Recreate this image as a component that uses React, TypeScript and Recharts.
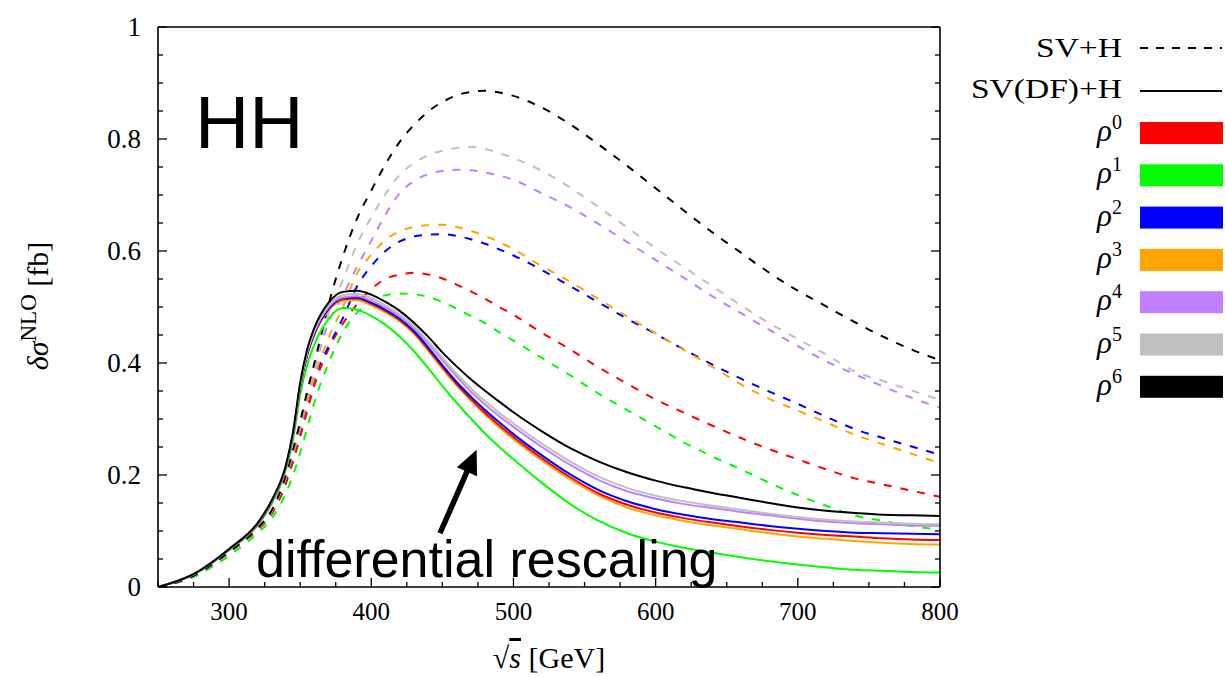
import React from 'react';
import { LineChart, Line, XAxis, YAxis, ReferenceLine } from 'recharts';

// sqrt(s) [GeV]
const X_VALUES = [250, 275, 300, 320, 330, 340, 345, 350, 355, 360, 370, 380, 390, 400, 410, 420, 430, 440, 450, 460, 470, 480, 490, 500, 520, 540, 560, 580, 600, 620, 640, 660, 680, 700, 720, 740, 760, 780, 800];

// SV+H (dashed)
const SVH_RHO0 = [0, 0.02, 0.061, 0.102, 0.13, 0.185, 0.224, 0.268, 0.315, 0.36, 0.425, 0.47, 0.505, 0.532, 0.55, 0.558, 0.561, 0.558, 0.551, 0.54, 0.528, 0.515, 0.5, 0.486, 0.454, 0.424, 0.392, 0.363, 0.335, 0.311, 0.288, 0.266, 0.246, 0.228, 0.21, 0.194, 0.183, 0.172, 0.161];
const SVH_RHO1 = [0, 0.018, 0.056, 0.096, 0.122, 0.168, 0.2, 0.24, 0.285, 0.33, 0.4, 0.455, 0.49, 0.512, 0.521, 0.524, 0.523, 0.518, 0.509, 0.497, 0.484, 0.471, 0.455, 0.44, 0.409, 0.378, 0.345, 0.316, 0.287, 0.258, 0.233, 0.21, 0.186, 0.164, 0.145, 0.128, 0.118, 0.109, 0.102];
const SVH_RHO2 = [0, 0.02, 0.062, 0.104, 0.134, 0.194, 0.235, 0.28, 0.327, 0.372, 0.43, 0.48, 0.537, 0.573, 0.6, 0.617, 0.626, 0.629, 0.63, 0.627, 0.621, 0.613, 0.603, 0.592, 0.566, 0.537, 0.508, 0.479, 0.452, 0.424, 0.397, 0.372, 0.349, 0.327, 0.304, 0.282, 0.266, 0.251, 0.236];
const SVH_RHO3 = [0, 0.02, 0.062, 0.104, 0.134, 0.195, 0.236, 0.282, 0.33, 0.375, 0.445, 0.5, 0.56, 0.593, 0.62, 0.635, 0.643, 0.646, 0.647, 0.643, 0.636, 0.627, 0.616, 0.603, 0.573, 0.545, 0.514, 0.483, 0.453, 0.423, 0.393, 0.362, 0.336, 0.315, 0.294, 0.272, 0.255, 0.238, 0.221];
const SVH_RHO4 = [0, 0.02, 0.063, 0.105, 0.136, 0.197, 0.24, 0.288, 0.34, 0.388, 0.473, 0.52, 0.572, 0.618, 0.665, 0.703, 0.725, 0.737, 0.743, 0.745, 0.744, 0.74, 0.735, 0.727, 0.703, 0.678, 0.648, 0.616, 0.584, 0.552, 0.519, 0.489, 0.459, 0.43, 0.403, 0.38, 0.358, 0.338, 0.32];
const SVH_RHO5 = [0, 0.02, 0.063, 0.105, 0.136, 0.198, 0.242, 0.29, 0.343, 0.392, 0.488, 0.548, 0.612, 0.66, 0.702, 0.736, 0.757, 0.771, 0.779, 0.784, 0.786, 0.782, 0.775, 0.766, 0.743, 0.713, 0.678, 0.642, 0.605, 0.571, 0.537, 0.503, 0.471, 0.443, 0.415, 0.385, 0.368, 0.351, 0.334];
const SVH_RHO6 = [0, 0.02, 0.063, 0.105, 0.137, 0.2, 0.245, 0.295, 0.35, 0.4, 0.505, 0.59, 0.658, 0.708, 0.755, 0.795, 0.825, 0.849, 0.866, 0.878, 0.884, 0.886, 0.883, 0.877, 0.856, 0.826, 0.79, 0.752, 0.712, 0.672, 0.633, 0.597, 0.561, 0.529, 0.501, 0.473, 0.447, 0.424, 0.405];

// SV(DF)+H (solid)
const DF_RHO0 = [0, 0.023, 0.067, 0.112, 0.152, 0.215, 0.272, 0.357, 0.415, 0.452, 0.496, 0.514, 0.515, 0.506, 0.493, 0.477, 0.455, 0.425, 0.393, 0.363, 0.336, 0.311, 0.289, 0.268, 0.23, 0.196, 0.167, 0.147, 0.133, 0.123, 0.115, 0.108, 0.102, 0.097, 0.093, 0.09, 0.087, 0.085, 0.084];
const DF_RHO1 = [0, 0.022, 0.066, 0.11, 0.149, 0.21, 0.263, 0.343, 0.397, 0.433, 0.479, 0.498, 0.495, 0.484, 0.468, 0.447, 0.421, 0.391, 0.359, 0.329, 0.301, 0.274, 0.25, 0.228, 0.186, 0.148, 0.118, 0.096, 0.081, 0.07, 0.061, 0.053, 0.046, 0.04, 0.035, 0.031, 0.029, 0.027, 0.026];
const DF_RHO2 = [0, 0.023, 0.067, 0.113, 0.153, 0.216, 0.273, 0.358, 0.416, 0.453, 0.497, 0.516, 0.517, 0.508, 0.495, 0.479, 0.457, 0.428, 0.396, 0.366, 0.34, 0.316, 0.294, 0.273, 0.235, 0.201, 0.173, 0.153, 0.139, 0.129, 0.121, 0.115, 0.109, 0.104, 0.1, 0.097, 0.096, 0.095, 0.094];
const DF_RHO3 = [0, 0.023, 0.067, 0.112, 0.152, 0.215, 0.271, 0.356, 0.414, 0.45, 0.494, 0.511, 0.512, 0.503, 0.49, 0.474, 0.452, 0.422, 0.39, 0.36, 0.333, 0.308, 0.285, 0.264, 0.226, 0.192, 0.163, 0.142, 0.128, 0.118, 0.11, 0.103, 0.096, 0.09, 0.086, 0.082, 0.079, 0.077, 0.076];
const DF_RHO4 = [0, 0.023, 0.068, 0.113, 0.154, 0.216, 0.274, 0.36, 0.419, 0.456, 0.5, 0.517, 0.519, 0.511, 0.499, 0.483, 0.462, 0.435, 0.405, 0.376, 0.349, 0.326, 0.305, 0.286, 0.25, 0.218, 0.191, 0.171, 0.158, 0.148, 0.141, 0.134, 0.128, 0.122, 0.117, 0.114, 0.112, 0.11, 0.1095];
const DF_RHO5 = [0, 0.023, 0.068, 0.114, 0.154, 0.217, 0.275, 0.362, 0.421, 0.458, 0.503, 0.521, 0.523, 0.516, 0.503, 0.487, 0.466, 0.439, 0.41, 0.381, 0.355, 0.332, 0.311, 0.292, 0.256, 0.224, 0.197, 0.177, 0.163, 0.153, 0.145, 0.138, 0.131, 0.125, 0.12, 0.117, 0.115, 0.113, 0.112];
const DF_RHO6 = [0, 0.023, 0.068, 0.114, 0.155, 0.218, 0.277, 0.365, 0.425, 0.463, 0.508, 0.527, 0.529, 0.522, 0.509, 0.493, 0.472, 0.447, 0.419, 0.394, 0.371, 0.3505, 0.331, 0.312, 0.278, 0.248, 0.224, 0.205, 0.19, 0.178, 0.168, 0.159, 0.15, 0.142, 0.136, 0.132, 0.129, 0.128, 0.127];

const RHO_LABELS = ['0', '1', '2', '3', '4', '5', '6'];
const RHO_COLORS = ['#ff0000', '#00ff00', '#0000ff', '#ffa500', '#c080ff', '#c0c0c0', '#000000'];
const SVH_SERIES = [SVH_RHO0, SVH_RHO1, SVH_RHO2, SVH_RHO3, SVH_RHO4, SVH_RHO5, SVH_RHO6];
const DF_SERIES = [DF_RHO0, DF_RHO1, DF_RHO2, DF_RHO3, DF_RHO4, DF_RHO5, DF_RHO6];

const X_TICKS = [250, 275, 300, 325, 350, 375, 400, 425, 450, 475, 500, 525, 550, 575, 600, 625, 650, 675, 700, 725, 750, 775, 800];
const X_LABELS: Record<string, string> = { '300': '300', '400': '400', '500': '500', '600': '600', '700': '700', '800': '800' };
const Y_TICKS = [0, 0.05, 0.1, 0.15, 0.2, 0.25, 0.3, 0.35, 0.4, 0.45, 0.5, 0.55, 0.6, 0.65, 0.7, 0.75, 0.8, 0.85, 0.9, 0.95, 1];
const Y_LABELS: Record<string, string> = { '0': '0', '0.2': '0.2', '0.4': '0.4', '0.6': '0.6', '0.8': '0.8', '1': '1' };

const ARROW_TAIL = { x: 448.3, y: 0.096 };
const ARROW_TIP = { x: 474.1, y: 0.245 };

const data = X_VALUES.map((x, i) => {
  const row: Record<string, number> = { x };
  SVH_SERIES.forEach((s, k) => { row['svh' + k] = s[i]; });
  DF_SERIES.forEach((s, k) => { row['df' + k] = s[i]; });
  return row;
});

const SERIF = "'Liberation Serif', 'DejaVu Serif', serif";
const SANS = "'Liberation Sans', Arial, sans-serif";
const MAJOR = 9;
const MINOR = 5;

const BottomTick = (p: any) => {
  const v = p.payload.value;
  const lab = X_LABELS[String(v)];
  const len = lab ? MAJOR : MINOR;
  return (
    <g>
      <line x1={p.x} x2={p.x} y1={p.y} y2={p.y - len} stroke="#000" strokeWidth={1.3} />
      {lab ? (
        <text x={p.x} y={p.y + 33} textAnchor="middle" fontFamily={SERIF} fontSize={25} fill="#000">{lab}</text>
      ) : null}
    </g>
  );
};
const TopTick = (p: any) => {
  const v = p.payload.value;
  const len = X_LABELS[String(v)] ? MAJOR : MINOR;
  return <line x1={p.x} x2={p.x} y1={p.y} y2={p.y + len} stroke="#000" strokeWidth={1.3} />;
};
const LeftTick = (p: any) => {
  const v = p.payload.value;
  const lab = Y_LABELS[String(v)];
  const len = lab ? MAJOR : MINOR;
  return (
    <g>
      <line x1={p.x} x2={p.x + len} y1={p.y} y2={p.y} stroke="#000" strokeWidth={1.3} />
      {lab ? (
        <text x={p.x - 17} y={p.y + 9} textAnchor="end" fontFamily={SERIF} fontSize={27} fill="#000">{lab}</text>
      ) : null}
    </g>
  );
};
const RightTick = (p: any) => {
  const v = p.payload.value;
  const len = Y_LABELS[String(v)] ? MAJOR : MINOR;
  return <line x1={p.x} x2={p.x - len} y1={p.y} y2={p.y} stroke="#000" strokeWidth={1.3} />;
};

const ArrowShape = (p: any) => {
  const { x1, y1, x2, y2 } = p;
  const dx = x2 - x1;
  const dy = y2 - y1;
  const L = Math.sqrt(dx * dx + dy * dy);
  const ux = dx / L;
  const uy = dy / L;
  const head = 24;
  const half = 11;
  const bx = x2 - ux * head;
  const by = y2 - uy * head;
  const px = -uy;
  const py = ux;
  return (
    <g>
      <line x1={x1} y1={y1} x2={bx + ux * 2} y2={by + uy * 2} stroke="#000" strokeWidth={5.5} />
      <polygon points={`${x2},${y2} ${bx + px * half},${by + py * half} ${bx - px * half},${by - py * half}`} fill="#000" />
    </g>
  );
};

const axisLine = { stroke: '#000', strokeWidth: 1.6 };

export default function App() {
  const legendRowTop = 122;
  const legendStep = 42.3;
  return (
    <div style={{ position: 'absolute', left: 0, top: 0, width: 1225, height: 677, background: '#fff' }}>
      <LineChart width={1225} height={677} data={data} margin={{ top: 0, right: 0, bottom: 30, left: 0 }}>
        <XAxis xAxisId="b" dataKey="x" type="number" domain={[250, 800]} ticks={X_TICKS} interval={0}
          height={60} tickSize={0} tickMargin={0} tickLine={false} axisLine={axisLine} tick={BottomTick} allowDataOverflow />
        <XAxis xAxisId="t" orientation="top" type="number" domain={[250, 800]} ticks={X_TICKS} interval={0}
          height={27} tickSize={0} tickMargin={0} tickLine={false} axisLine={axisLine} tick={TopTick} allowDataOverflow />
        <YAxis yAxisId="l" type="number" domain={[0, 1]} ticks={Y_TICKS} interval={0}
          width={158} tickSize={0} tickMargin={0} tickLine={false} axisLine={axisLine} tick={LeftTick} allowDataOverflow />
        <YAxis yAxisId="r" orientation="right" type="number" domain={[0, 1]} ticks={Y_TICKS} interval={0}
          width={285} tickSize={0} tickMargin={0} tickLine={false} axisLine={axisLine} tick={RightTick} allowDataOverflow />
        {SVH_SERIES.map((_, k) => (
          <Line key={'svh' + k} xAxisId="b" yAxisId="l" dataKey={'svh' + k} type="monotone" stroke={RHO_COLORS[k]}
            strokeWidth={2} strokeDasharray="8 9" dot={false} activeDot={false} isAnimationActive={false} />
        ))}
        {[1, 3, 0, 2, 4, 5, 6].map((k) => (
          <Line key={'df' + k} xAxisId="b" yAxisId="l" dataKey={'df' + k} type="monotone" stroke={RHO_COLORS[k]}
            strokeWidth={2} dot={false} activeDot={false} isAnimationActive={false} />
        ))}
        <ReferenceLine xAxisId="b" yAxisId="l" segment={[ARROW_TAIL, ARROW_TIP]} shape={ArrowShape} ifOverflow="visible" />
      </LineChart>
      <svg width={1225} height={677} style={{ position: 'absolute', left: 0, top: 0, pointerEvents: 'none' }}>
        <text x={195} y={148} fontFamily={SANS} fontSize={75} fill="#000">HH</text>
        <text x={256} y={577} fontFamily={SANS} fontSize={52} fill="#000">differential rescaling</text>
        <text transform="translate(48,306) rotate(-90)" textAnchor="middle" fontFamily={SERIF} fontSize={30} fill="#000">
          <tspan fontStyle="italic">δσ</tspan>
          <tspan dy={-12} fontSize={23}>NLO</tspan>
          <tspan dy={12}> [fb]</tspan>
        </text>
        <text x={549} y={668} textAnchor="middle" fontFamily={SERIF} fontSize={30} fill="#000">
          <tspan>√</tspan><tspan fontStyle="italic" textDecoration="overline">s</tspan><tspan> [GeV]</tspan>
        </text>
        {/* legend */}
        <text x={1122} y={57} textAnchor="end" fontFamily={SERIF} fontSize={27} fill="#000" textLength={86} lengthAdjust="spacingAndGlyphs">SV+H</text>
        <line x1={1140} x2={1222} y1={48} y2={48} stroke="#000" strokeWidth={2} strokeDasharray="8 8" />
        <text x={1122} y={98} textAnchor="end" fontFamily={SERIF} fontSize={27} fill="#000" textLength={151} lengthAdjust="spacingAndGlyphs">SV(DF)+H</text>
        <line x1={1140} x2={1222} y1={91} y2={91} stroke="#000" strokeWidth={2} />
        {RHO_LABELS.map((lab, i) => {
          const top = legendRowTop + i * legendStep;
          return (
            <g key={lab}>
              <text x={1122} y={top + 19} textAnchor="end" fontFamily={SERIF} fontSize={31} fill="#000">
                <tspan fontStyle="italic">ρ</tspan>
                <tspan dy={-12} fontSize={20}>{lab}</tspan>
              </text>
              <rect x={1140} y={top} width={83} height={22} fill={RHO_COLORS[i]} />
            </g>
          );
        })}
      </svg>
    </div>
  );
}
